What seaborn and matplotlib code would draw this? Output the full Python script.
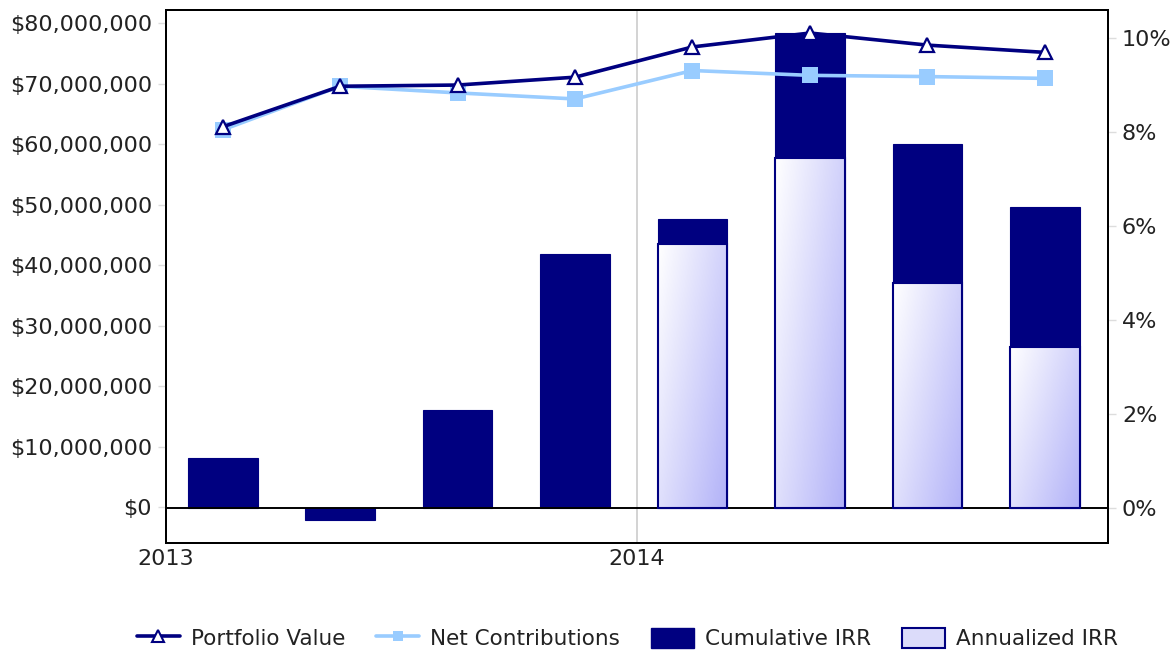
import matplotlib
matplotlib.use("Agg")
import matplotlib.pyplot as plt
import matplotlib.dates as mdates
from matplotlib.colors import LinearSegmentedColormap
from matplotlib.lines import Line2D
from matplotlib.patches import Patch, Rectangle
import numpy as np
import pandas as pd
import seaborn as sns

# ---------------- data ----------------
dates = ["2013-02-14", "2013-05-16", "2013-08-15", "2013-11-14",
         "2014-02-13", "2014-05-15", "2014-08-14", "2014-11-13"]
portfolio_value = [62.9e6, 69.6e6, 69.8e6, 71.1e6, 76.1e6, 78.4e6, 76.4e6, 75.2e6]
net_contributions = [62.4e6, 69.6e6, 68.5e6, 67.5e6, 72.2e6, 71.4e6, 71.2e6, 70.9e6]
cumulative_irr = [1.05, -0.27, 2.07, 5.39, 6.14, 10.11, 7.73, 6.39]
annualized_irr = [np.nan, np.nan, np.nan, np.nan, 5.61, 7.43, 4.78, 3.41]
left_ticks = [0, 10e6, 20e6, 30e6, 40e6, 50e6, 60e6, 70e6, 80e6]
right_ticks = [0, 2, 4, 6, 8, 10]
year_ticks = ["2013-01-01", "2014-01-01"]

df = pd.DataFrame({
    "date": pd.to_datetime(dates),
    "Portfolio Value": portfolio_value,
    "Net Contributions": net_contributions,
    "Cumulative IRR": cumulative_irr,
    "Annualized IRR": annualized_irr,
})

NAVY = "#000080"
LIGHT = "#99ccff"

sns.set_theme(style="white")
plt.rcParams["font.family"] = ["DejaVu Sans"]

fig = plt.figure(figsize=(11.73, 6.51), dpi=100)
ax = fig.add_axes([0.1415, 0.1659, 0.8031, 0.8187])
ax2 = ax.twinx()

# bars on ax (right scale), lines on ax2 (left scale)
ax.yaxis.tick_right()
ax.yaxis.set_label_position("right")
ax2.yaxis.tick_left()
ax2.yaxis.set_label_position("left")

xnum = mdates.date2num(df["date"])
bar_w = 54  # days

ax.bar(xnum, df["Cumulative IRR"], width=bar_w, color=NAVY, edgecolor=NAVY,
       linewidth=0.8, zorder=2)

cmap = LinearSegmentedColormap.from_list("g", ["#ffffff", "#b2b2f8"])
gx, gy = np.meshgrid(np.linspace(0, 1, 60), np.linspace(0, 1, 60))
grad = (gx * 0.6 + gy * 0.4)
ann_bars = ax.bar(xnum, df["Annualized IRR"], width=bar_w, facecolor="none",
                  edgecolor=NAVY, linewidth=1.5, zorder=4)
for p in ann_bars.patches:
    h = p.get_height()
    if not np.isfinite(h):
        continue
    x0 = p.get_x()
    w = p.get_width()
    im = ax.imshow(grad, extent=[x0, x0 + w, 0, h], origin="upper",
                   aspect="auto", cmap=cmap, vmin=0, vmax=1, zorder=3)
    clip = Rectangle((x0, 0), w, h, transform=ax.transData)
    im.set_clip_path(clip)

ax.axhline(0, color="black", linewidth=1.4, zorder=2.5)

sns.lineplot(data=df, x=xnum, y="Net Contributions", ax=ax2, color=LIGHT,
             linewidth=2.6, marker="s", markersize=12, markeredgewidth=0,
             markerfacecolor=LIGHT, zorder=5)
sns.lineplot(data=df, x=xnum, y="Portfolio Value", ax=ax2, color=NAVY,
             linewidth=2.6, marker="^", markersize=10, markeredgewidth=1.6,
             markerfacecolor="white", markeredgecolor=NAVY, zorder=6)

# limits
xlim = mdates.date2num(pd.to_datetime(["2013-01-01", "2015-01-01"]))
ax.set_xlim(xlim)
ax2.set_xlim(xlim)
ax.set_ylim(-0.755, 10.59)
ax2.set_ylim(-5.9e6, 82.2e6)

ax.set_xticks(mdates.date2num(pd.to_datetime(year_ticks)))
ax.xaxis.set_major_formatter(mdates.DateFormatter("%Y"))
ax.set_yticks(right_ticks)
ax.set_yticklabels([f"{t}%" for t in right_ticks])
ax2.set_yticks(left_ticks)
ax2.set_yticklabels([f"${t:,.0f}" for t in left_ticks])

ax.grid(axis="x", color="#cccccc", linewidth=1.2)
ax.grid(axis="y", visible=False)
ax2.grid(False)
ax.set_axisbelow(True)

ax.set_xlabel("")
ax.set_ylabel("")
ax2.set_xlabel("")
ax2.set_ylabel("")

for a in (ax, ax2):
    for s in a.spines.values():
        s.set_color("black")
        s.set_linewidth(1.4)
    a.tick_params(axis="y", which="major", length=6, width=1, color="#dddddd",
                  labelsize=16, labelcolor="#222222", pad=4)
ax.tick_params(axis="x", length=0, labelsize=16, labelcolor="#222222", pad=4)

handles = [
    Line2D([0], [0], color=NAVY, lw=2.6, marker="^", markersize=8,
           markerfacecolor="white", markeredgecolor=NAVY, markeredgewidth=1.5),
    Line2D([0], [0], color=LIGHT, lw=2.6, marker="s", markersize=7,
           markerfacecolor=LIGHT, markeredgewidth=0),
    Patch(facecolor=NAVY, edgecolor=NAVY),
    Patch(facecolor="#dcdcfa", edgecolor=NAVY, linewidth=1.5),
]
labels = ["Portfolio Value", "Net Contributions", "Cumulative IRR", "Annualized IRR"]
fig.legend(handles, labels, loc="lower center", bbox_to_anchor=(0.535, -0.027),
           ncol=4, frameon=False, fontsize=15.5, handlelength=2.0,
           handleheight=1.1, columnspacing=1.45, handletextpad=0.5,
           labelcolor="#222222")

fig.savefig("out.png", dpi=100)
